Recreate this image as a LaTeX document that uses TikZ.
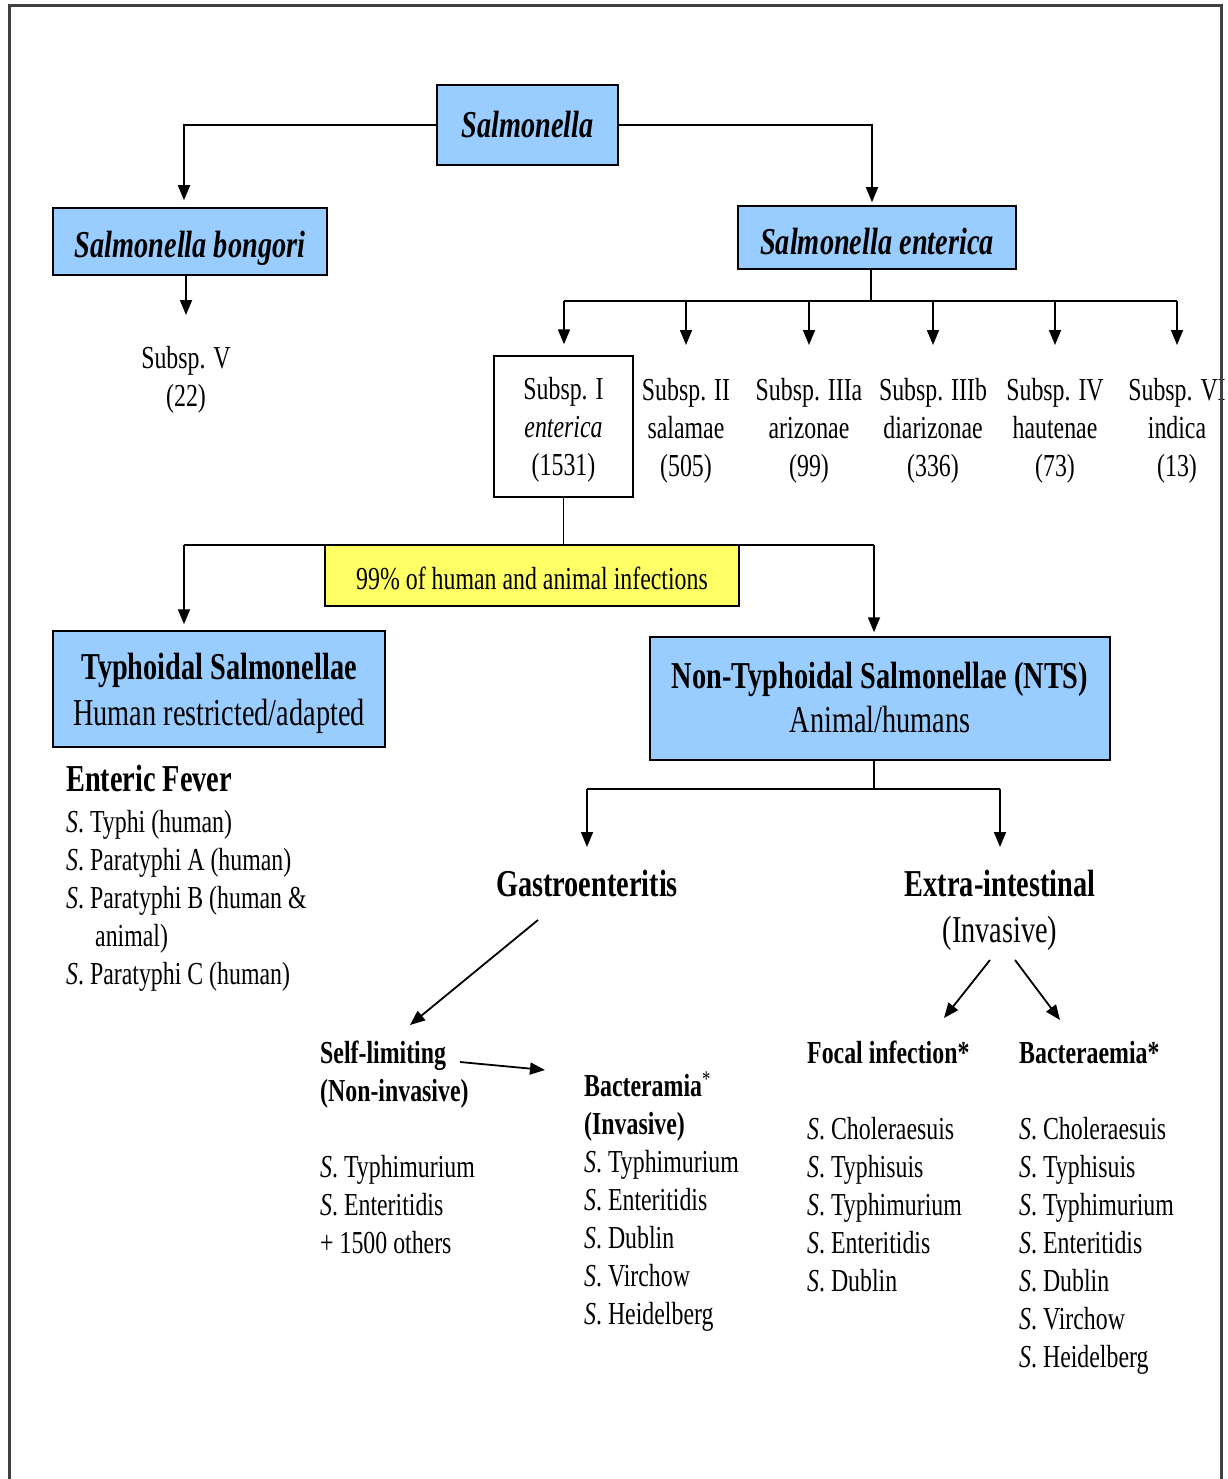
\documentclass[tikz,border=0pt]{standalone}
\usepackage{fontspec}
\setmainfont{Liberation Serif}[FakeStretch=0.745]
\usetikzlibrary{arrows.meta}
\definecolor{boxblue}{HTML}{99CCFF}
\definecolor{boxyellow}{HTML}{FFFF66}
\definecolor{framegray}{HTML}{404040}
\newcommand\fsA{\fontsize{32}{38}\selectfont}
\newcommand\fsB{\fontsize{38}{46}\selectfont}
\newcommand\Sdot{\textit{S}.\ }
\newcommand\lstl[1]{\begin{tabular}[t]{@{}l@{}}#1\end{tabular}}
\newcommand\lstc[1]{\begin{tabular}[t]{@{}c@{}}#1\end{tabular}}
\begin{document}
\begin{tikzpicture}[x=1pt,y=-1pt,
  box/.style={draw=black, line width=1.5pt, inner sep=0pt, align=center},
  bluebox/.style={box, fill=boxblue},
  conn/.style={line width=1.8pt},
  arr/.style={conn, -{Triangle[length=15pt,width=12pt]}},
  txt/.style={inner sep=0pt},
  col/.style={txt, align=center, font=\fsA}]
\useasboundingbox (0,0) rectangle (1227,1479);
\fill[white] (0,0) rectangle (1227,1479);

% top level boxes
\node[bluebox, minimum width=181pt, minimum height=80pt, font=\fsB\bfseries\itshape] (sal) at (527.5,125) {Salmonella};
\node[bluebox, minimum width=274pt, minimum height=67pt, text height=32pt, text depth=0pt, font=\fsB\bfseries\itshape] (bong) at (190,241.5) {Salmonella bongori};
\node[bluebox, minimum width=278pt, minimum height=63pt, text height=34pt, text depth=0pt, font=\fsB\bfseries\itshape] (ent) at (877,237.5) {Salmonella enterica};

% subspecies
\node[col] (sV) at (186,380) {Subsp. V\\(22)};
\node[box, fill=white, minimum width=139pt, minimum height=141pt, text height=104pt, text depth=6pt, font=\fsA] (s1) at (563.5,426.5) {Subsp. I\\\textit{enterica}\\(1531)};
\node[col] (s2) at (686,431) {Subsp. II\\salamae\\(505)};
\node[col] (s3) at (809,431) {Subsp. IIIa\\arizonae\\(99)};
\node[col] (s4) at (933,431) {Subsp. IIIb\\diarizonae\\(336)};
\node[col] (s5) at (1055,431) {Subsp. IV\\hautenae\\(73)};
\node[col] (s6) at (1177,431) {Subsp. VI\\indica\\(13)};

% connectors top
\coordinate (tipV) at (186,315);
\draw[arr, shorten >=7pt] (sal.west) -| ([xshift=-6pt]bong.north);
\draw[arr, shorten >=3pt] (sal.east) -| ([xshift=-5pt]ent.north);
\draw[arr] (bong.south -| tipV) -- (tipV);
\coordinate (busA) at (564,301);
\coordinate (busB) at (1177,301);
\draw[conn] ([xshift=-6pt]ent.south) -- ([xshift=-6pt]ent.south |- busA);
\draw[conn] (busA) -- (busB);
\draw[arr, shorten >=11pt] (busA) -- (busA |- s1.north);
\foreach \c in {s2,s3,s4,s5,s6}{
  \coordinate (t\c) at (\c.north |- 0,345);
  \draw[arr] (\c.north |- busA) -- (t\c);
}

% second level
\coordinate (b2L) at (184,545);
\coordinate (b2R) at (874,545);
\draw[conn] (s1.south) -- (s1.south |- b2L);
\draw[conn] (b2L) -- (b2R);
\node[box, fill=boxyellow, minimum width=414pt, minimum height=61pt, text height=27pt, text depth=0pt, font=\fsA] (yel) at (532,575.5) {99\% of human and animal infections};
\node[bluebox, minimum width=332pt, minimum height=116pt, text height=80pt, text depth=8pt, font=\fsB] (typh) at (219,689) {\textbf{Typhoidal Salmonellae}\\Human restricted/adapted};
\node[bluebox, minimum width=460pt, minimum height=123pt, text height=76pt, text depth=8pt, font=\fontsize{38}{44}\selectfont] (nts) at (880,698.5) {\textbf{Non-Typhoidal Salmonellae (NTS)}\\Animal/humans};
\draw[arr, shorten >=6pt] (b2L) -- (b2L |- typh.north);
\draw[arr, shorten >=4pt] (b2R) -- (b2R |- nts.north);

% typhoidal list
\node[txt, anchor=base west, font=\fsB\bfseries] (ef) at (66,791) {Enteric Fever};
\node[txt, anchor=base west, font=\fsA] (eflist) at (66,832) {\lstl{\Sdot Typhi (human)\\ \Sdot Paratyphi A (human)\\ \Sdot Paratyphi B (human \&\\ \hspace*{29pt}animal)\\ \Sdot Paratyphi C (human)}};

% NTS split
\coordinate (b3L) at (587,789);
\coordinate (b3R) at (1000,789);
\draw[conn] ([xshift=-6pt]nts.south) -- ([xshift=-6pt]nts.south |- b3L);
\draw[conn] (b3L) -- (b3R);
\coordinate (tG) at (587,847);
\coordinate (tE) at (1000,847);
\draw[arr] (b3L) -- (tG);
\draw[arr] (b3R) -- (tE);
\node[txt, anchor=base, font=\fsB\bfseries] (gastro) at (587,896) {Gastroenteritis};
\node[txt, anchor=base, font=\fontsize{38}{46}\selectfont] (extra) at (1000,896) {\lstc{\textbf{Extra-intestinal}\\(Invasive)}};

% gastro branch
\coordinate (g1) at (538,920);
\coordinate (g2) at (410,1025);
\draw[arr] (g1) -- (g2);
\node[txt, anchor=base west, font=\fsA\bfseries] (selfl) at (320,1063) {\lstl{Self-limiting\\(Non-invasive)}};
\node[txt, anchor=base west, font=\fsA] (selflist) at (320,1177) {\lstl{\Sdot Typhimurium\\ \Sdot Enteritidis\\+ 1500 others}};
\coordinate (sb1) at (460,1062);
\coordinate (sb2) at (545,1070);
\draw[arr] (sb1) -- (sb2);
\node[txt, anchor=base west, font=\fsA] (bactg) at (584,1096) {\lstl{\textbf{Bacteramia}\textsuperscript{*}\\ \textbf{(Invasive)}\\ \Sdot Typhimurium\\ \Sdot Enteritidis\\ \Sdot Dublin\\ \Sdot Virchow\\ \Sdot Heidelberg}};

% extra-intestinal branch
\coordinate (e1) at (990,960);
\coordinate (e2) at (944,1018);
\coordinate (e3) at (1015,960);
\coordinate (e4) at (1060,1020);
\draw[arr] (e1) -- (e2);
\draw[arr] (e3) -- (e4);
\node[txt, anchor=base west, font=\fsA\bfseries] (focal) at (807,1063) {Focal infection*};
\node[txt, anchor=base west, font=\fsA] (focallist) at (807,1139) {\lstl{\Sdot Choleraesuis\\ \Sdot Typhisuis\\ \Sdot Typhimurium\\ \Sdot Enteritidis\\ \Sdot Dublin}};
\node[txt, anchor=base west, font=\fsA\bfseries] (bacte) at (1019,1063) {Bacteraemia*};
\node[txt, anchor=base west, font=\fsA] (bactelist) at (1019,1139) {\lstl{\Sdot Choleraesuis\\ \Sdot Typhisuis\\ \Sdot Typhimurium\\ \Sdot Enteritidis\\ \Sdot Dublin\\ \Sdot Virchow\\ \Sdot Heidelberg}};

% frame
\draw[framegray, line width=3pt] (9,1479) -- (9,6) -- (1221,6) -- (1221,1479);
\end{tikzpicture}
\end{document}
